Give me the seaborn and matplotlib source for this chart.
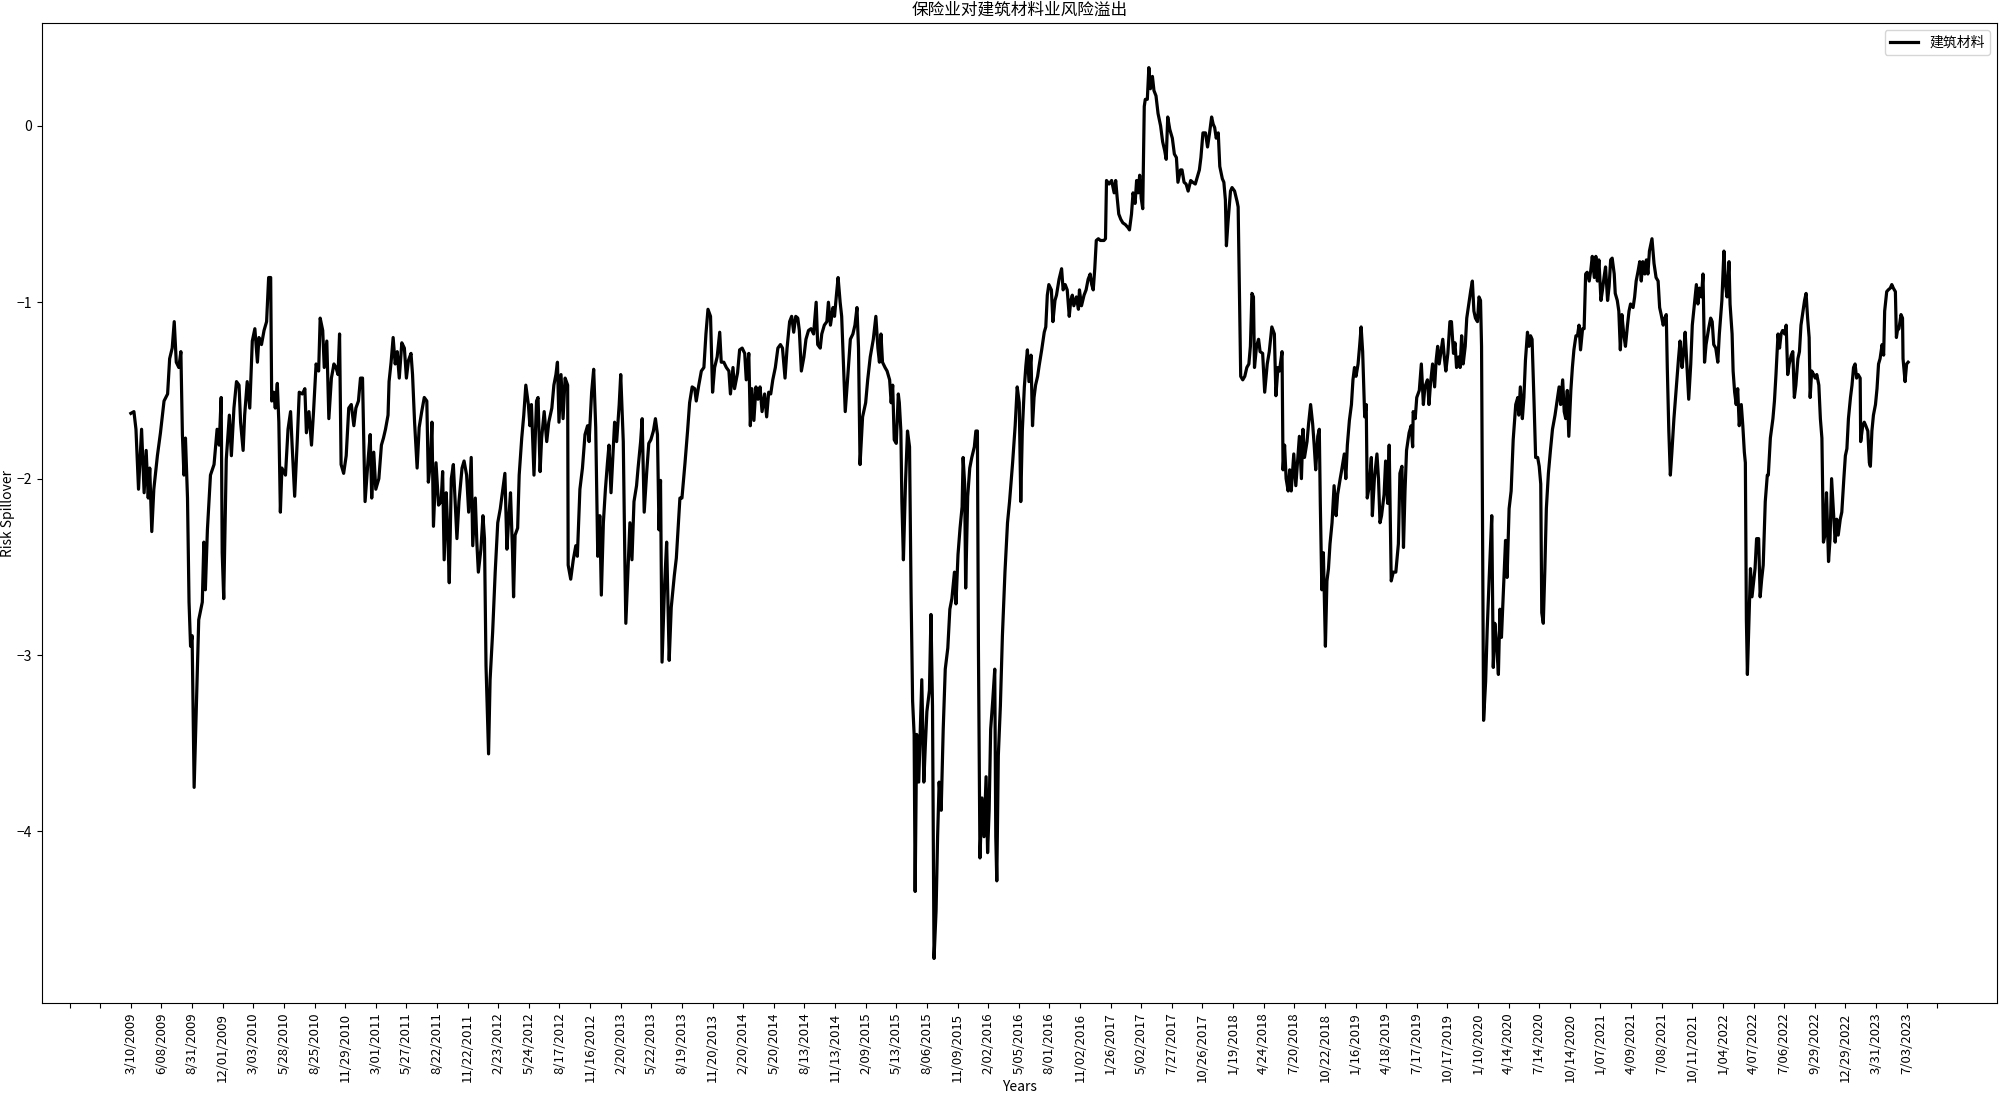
import numpy as np
import pandas as pd
import matplotlib
matplotlib.use("Agg")
import matplotlib.pyplot as plt
import seaborn as sns

# trading-day index (0 = 3/10/2009) and risk spillover
day_idx = [
    0, 6, 10, 15, 21, 26, 30, 34, 37, 41,
    45, 52, 58, 65, 72, 76, 81, 85, 89, 94,
    98, 101, 104, 107, 111, 114, 117, 120, 124, 127,
    133, 140, 143, 146, 150, 156, 163, 169, 173, 177,
    179, 182, 187, 193, 197, 202, 207, 212, 215, 220,
    223, 228, 233, 238, 243, 248, 251, 256, 261, 266,
    270, 274, 276, 280, 283, 287, 290, 293, 296, 303,
    308, 313, 316, 321, 326, 330, 336, 341, 344, 349,
    354, 358, 363, 368, 371, 376, 379, 384, 388, 393,
    398, 402, 406, 409, 412, 417, 422, 427, 432, 437,
    441, 446, 450, 454, 457, 459, 465, 469, 472, 476,
    480, 486, 491, 495, 499,
    504, 506, 510, 514, 518, 522, 526, 531, 536, 540,
    544, 549, 552, 556, 561, 565, 570, 575, 580, 583,
    587, 590, 593, 598, 603, 608, 611, 614, 618, 621,
    624, 628, 632, 635, 639, 643, 649, 653, 658, 662,
    667, 670, 675, 678, 681, 686, 690, 693, 696, 701,
    704, 709, 714, 719, 724, 729, 733, 737, 740, 744,
    748, 750, 753, 758, 761, 766, 770, 774, 779, 782,
    785, 790, 795, 798, 802, 805, 810, 815, 819, 825,
    829, 833, 836, 839, 843, 847, 851, 856, 857, 862,
    867, 872, 875, 880, 885, 890, 895, 898, 903, 907,
    911, 915, 919, 922, 926, 930, 934, 937, 941, 944,
    948, 952, 957, 960, 965, 968, 970, 975, 978, 982,
    986, 991, 994, 999, 1002,
    1006, 1011, 1015, 1019, 1024, 1028, 1032, 1035, 1038, 1041,
    1046, 1050, 1055, 1059, 1065, 1069, 1076, 1080, 1086, 1091,
    1095, 1100, 1105, 1108, 1113, 1118, 1123, 1127, 1131, 1136,
    1140, 1144, 1149, 1154, 1157, 1162, 1167, 1172, 1175, 1180,
    1183, 1189, 1193, 1198, 1203, 1206, 1211, 1214, 1217, 1221,
    1225, 1229, 1233, 1237, 1242, 1246, 1250, 1254, 1258, 1263,
    1268, 1273, 1277, 1282, 1286, 1291, 1295, 1299, 1303, 1307,
    1310, 1314, 1319, 1323, 1328, 1333, 1338, 1343, 1346, 1351,
    1354, 1359, 1364, 1367, 1371, 1376, 1379, 1383, 1386, 1390,
    1393, 1397, 1400, 1405, 1410, 1415, 1419, 1423, 1426, 1429,
    1434, 1440, 1444, 1449, 1455, 1460, 1464, 1467, 1470, 1473,
    1478, 1482, 1487, 1490, 1493, 1496, 1500, 1504,
    1506, 1509, 1511, 1514, 1518, 1522, 1526, 1529, 1532, 1535,
    1537, 1540, 1544, 1547, 1550, 1554, 1557, 1560, 1565, 1568,
    1571, 1574, 1578, 1581, 1584, 1588, 1592, 1596, 1601, 1605,
    1609, 1614, 1617, 1621, 1625, 1629, 1631, 1634, 1636, 1640,
    1644, 1648, 1653, 1656, 1659, 1661, 1664, 1668, 1672, 1676,
    1679, 1682, 1685, 1689, 1693, 1695, 1697, 1700, 1704, 1708,
    1713, 1718, 1722, 1728, 1733, 1737, 1741, 1744, 1747, 1751,
    1754, 1757, 1760, 1764, 1767, 1770, 1773, 1777, 1780, 1785,
    1790, 1793, 1796, 1799, 1804, 1807, 1811, 1814, 1819, 1824,
    1827, 1831, 1835, 1839, 1842, 1845, 1848, 1853, 1857, 1859,
    1863, 1868, 1872, 1876, 1880, 1883, 1886, 1889, 1892, 1896,
    1900, 1907, 1910, 1912, 1917, 1922, 1927, 1930, 1933, 1936,
    1940, 1944, 1949, 1955, 1957, 1961, 1964, 1968, 1971, 1974,
    1977, 1980, 1983, 1986, 1988, 1992,
    1995, 1998, 2002, 2005, 2009, 2013, 2018, 2022, 2026, 2029,
    2032, 2036, 2041, 2045, 2049, 2052, 2057, 2060, 2064, 2068,
    2072, 2077, 2081, 2086, 2090, 2094, 2097, 2101, 2106, 2110,
    2114, 2118, 2121, 2124, 2127, 2131, 2134, 2139, 2142, 2145,
    2147, 2150, 2155, 2158, 2163, 2168, 2170, 2172, 2175, 2179,
    2183, 2187, 2191, 2194, 2197, 2200, 2202, 2206, 2210, 2213,
    2218, 2222, 2227, 2231, 2236, 2241, 2244, 2248, 2251, 2256,
    2258, 2261, 2264, 2268, 2271, 2274, 2279, 2283, 2287, 2290,
    2294, 2297, 2300, 2305, 2308, 2312, 2316, 2319, 2322, 2326,
    2329, 2331, 2334, 2337, 2341, 2344, 2347, 2350, 2354, 2358,
    2362, 2365, 2370, 2373, 2378, 2381, 2384, 2388, 2392, 2395,
    2398, 2401, 2405, 2408, 2411, 2414, 2418, 2421, 2423, 2427,
    2431, 2433, 2437, 2442, 2445, 2448, 2451, 2456, 2459, 2463,
    2466, 2470, 2474, 2479,
    2484, 2487, 2491, 2494, 2497, 2500, 2505, 2509, 2512, 2513,
    2517, 2520, 2525, 2529, 2533, 2536, 2541, 2544, 2547, 2551,
    2555, 2558, 2561, 2564, 2568, 2571, 2574, 2577, 2581, 2585,
    2588, 2592, 2595, 2598, 2602, 2605, 2608, 2611, 2615, 2618,
    2622, 2626, 2629, 2632, 2635, 2639, 2642, 2645, 2647, 2649,
    2651, 2655, 2658, 2662, 2667, 2670, 2673, 2677, 2680, 2683,
    2686, 2690, 2694, 2697, 2701, 2705, 2709, 2714, 2718, 2720,
    2723, 2727, 2730, 2733, 2737, 2740, 2743, 2746, 2750, 2753,
    2757, 2760, 2763, 2765, 2768, 2771, 2774, 2778, 2782, 2786,
    2791, 2795, 2799, 2802, 2806, 2809, 2812, 2815, 2818, 2822,
    2825, 2828, 2832, 2835, 2838, 2841, 2845, 2848, 2851, 2854,
    2858, 2861, 2864, 2868, 2871, 2874, 2877, 2881, 2884, 2887,
    2890, 2894, 2897, 2900, 2903, 2907, 2909, 2913, 2916, 2919,
    2922, 2926, 2929, 2933, 2936, 2939, 2944, 2947, 2950, 2954,
    2957, 2960, 2963, 2967, 2970,
    2973, 2976, 2981, 2985, 2989, 2993, 2996, 2999, 3003, 3006,
    3009, 3011, 3014, 3017, 3020, 3024, 3029, 3033, 3036, 3040,
    3043, 3046, 3050, 3053, 3057, 3060, 3065, 3068, 3071, 3074,
    3078, 3081, 3084, 3087, 3092, 3096, 3099, 3102, 3106, 3110,
    3113, 3118, 3122, 3125, 3128, 3132, 3134, 3138, 3140, 3143,
    3146, 3149, 3152, 3156, 3159, 3162, 3164, 3166, 3168, 3171,
    3174, 3177, 3180, 3183, 3186, 3190, 3193, 3196, 3199, 3203,
    3207, 3209, 3213, 3218, 3221, 3224, 3228, 3231, 3234, 3237,
    3241, 3244, 3247, 3250, 3254, 3257, 3260, 3263, 3267, 3270,
    3273, 3276, 3280, 3283, 3286, 3289, 3291, 3294, 3298, 3301,
    3304, 3308, 3311, 3314, 3317, 3320, 3323, 3327, 3330, 3333,
    3336, 3340, 3343, 3346, 3350, 3353, 3357, 3360, 3363, 3366,
    3370, 3373, 3376, 3379, 3382, 3385, 3389, 3390, 3394, 3397,
    3400, 3404, 3407, 3409, 3412, 3415, 3419, 3422, 3425, 3428,
    3432, 3435, 3437, 3441, 3444, 3448, 3451, 3454, 3458, 3460,
    3462, 3465, 3469, 3472, 3473, 3477, 3480, 3483,
]

spillover = [
    -1.63, -1.62, -1.72, -2.06, -1.72, -2.08, -1.84, -2.11, -1.94, -2.30,
    -2.06, -1.87, -1.74, -1.56, -1.52, -1.32, -1.26, -1.11, -1.34, -1.37,
    -1.28, -1.75, -1.98, -1.77, -2.11, -2.70, -2.95, -2.89, -3.75, -3.43,
    -2.80, -2.70, -2.36, -2.63, -2.29, -1.98, -1.92, -1.72, -1.81, -1.54,
    -2.42, -2.68, -1.89, -1.64, -1.87, -1.60, -1.45, -1.47, -1.68, -1.84,
    -1.64, -1.45, -1.60, -1.22, -1.15, -1.34, -1.20, -1.24, -1.16, -1.11,
    -0.86, -0.86, -1.56, -1.51, -1.60, -1.46, -1.68, -2.19, -1.94, -1.98,
    -1.72, -1.62, -1.81, -2.10, -1.79, -1.51, -1.52, -1.49, -1.74, -1.62,
    -1.81, -1.62, -1.35, -1.39, -1.09, -1.16, -1.37, -1.22, -1.66, -1.43,
    -1.35, -1.37, -1.41, -1.18, -1.92, -1.97, -1.87, -1.60, -1.58, -1.70,
    -1.60, -1.56, -1.43, -1.43, -1.87, -2.13, -1.89, -1.75, -2.11, -1.85,
    -2.06, -2.00, -1.81, -1.77, -1.72,
    -1.64, -1.45, -1.34, -1.20, -1.35, -1.28, -1.43, -1.23, -1.26, -1.43,
    -1.33, -1.29, -1.41, -1.68, -1.94, -1.71, -1.62, -1.54, -1.56, -2.02,
    -1.91, -1.68, -2.27, -1.91, -2.15, -2.13, -1.96, -2.46, -2.08, -2.30,
    -2.59, -2.00, -1.92, -2.10, -2.34, -2.13, -1.94, -1.90, -1.98, -2.19,
    -1.88, -2.38, -2.11, -2.36, -2.53, -2.40, -2.21, -2.34, -3.06, -3.56,
    -3.14, -2.87, -2.53, -2.25, -2.17, -2.06, -1.97, -2.40, -2.25, -2.08,
    -2.42, -2.67, -2.32, -2.28, -1.98, -1.77, -1.64, -1.47, -1.58, -1.70,
    -1.58, -1.98, -1.56, -1.54, -1.96, -1.77, -1.62, -1.79, -1.68, -1.60,
    -1.47, -1.41, -1.34, -1.68, -1.41, -1.66, -1.43, -1.47, -2.49, -2.57,
    -2.46, -2.38, -2.44, -2.06, -1.94, -1.75, -1.70, -1.79, -1.51, -1.38,
    -1.71, -2.44, -2.21, -2.66, -2.25, -2.06, -1.91, -1.81, -2.08, -1.91,
    -1.68, -1.79, -1.58, -1.41, -1.79, -2.44, -2.82, -2.47, -2.25, -2.46,
    -2.13, -2.04, -1.94, -1.79, -1.66,
    -2.19, -1.96, -1.80, -1.78, -1.73, -1.66, -1.75, -2.29, -2.01, -3.04,
    -2.60, -2.36, -3.03, -2.73, -2.55, -2.45, -2.11, -2.11, -1.91, -1.73,
    -1.57, -1.48, -1.49, -1.56, -1.47, -1.39, -1.37, -1.18, -1.04, -1.08,
    -1.51, -1.37, -1.31, -1.17, -1.34, -1.34, -1.37, -1.39, -1.52, -1.37,
    -1.49, -1.40, -1.27, -1.26, -1.29, -1.44, -1.29, -1.70, -1.49, -1.67,
    -1.48, -1.55, -1.48, -1.62, -1.52, -1.65, -1.51, -1.52, -1.44, -1.37,
    -1.26, -1.24, -1.26, -1.43, -1.26, -1.11, -1.08, -1.17, -1.08, -1.09,
    -1.16, -1.39, -1.31, -1.21, -1.16, -1.15, -1.18, -1.00, -1.24, -1.26,
    -1.18, -1.13, -1.11, -1.00, -1.13, -1.03, -1.08, -0.95, -0.86, -1.00,
    -1.08, -1.39, -1.62, -1.42, -1.21, -1.18, -1.13, -1.03, -1.26, -1.92,
    -1.65, -1.57, -1.44, -1.31, -1.21, -1.08, -1.26, -1.34, -1.18, -1.34,
    -1.37, -1.39, -1.44, -1.57, -1.47, -1.78, -1.80, -1.52,
    -1.57, -1.73, -2.13, -2.46, -2.03, -1.73, -1.82, -2.65, -3.26, -3.45,
    -4.34, -3.45, -3.72, -3.42, -3.14, -3.72, -3.51, -3.32, -3.20, -2.77,
    -3.29, -4.72, -4.45, -4.03, -3.72, -3.88, -3.42, -3.08, -2.96, -2.74,
    -2.68, -2.53, -2.71, -2.43, -2.28, -2.16, -1.88, -2.03, -2.62, -2.10,
    -1.94, -1.88, -1.82, -1.73, -1.73, -2.96, -4.15, -3.81, -4.03, -3.69,
    -4.12, -3.88, -3.42, -3.26, -3.08, -4.03, -4.28, -3.57, -3.29, -2.89,
    -2.53, -2.25, -2.13, -1.91, -1.70, -1.48, -1.57, -2.13, -1.73, -1.48,
    -1.36, -1.27, -1.45, -1.30, -1.70, -1.54, -1.47, -1.42, -1.36, -1.27,
    -1.17, -1.14, -0.96, -0.90, -0.93, -1.11, -0.99, -0.96, -0.87, -0.81,
    -0.93, -0.90, -0.93, -1.08, -0.99, -0.96, -1.02, -0.97, -1.04, -0.93,
    -1.02, -0.96, -0.93, -0.87, -0.84, -0.90, -0.93, -0.81, -0.65, -0.64,
    -0.65, -0.65, -0.64, -0.31, -0.33, -0.31, -0.38, -0.31, -0.41, -0.50,
    -0.53, -0.55, -0.56, -0.58, -0.59, -0.50, -0.38, -0.44, -0.31, -0.38,
    -0.28, -0.41, -0.47, 0.11, 0.15, 0.15,
    0.33, 0.21, 0.28, 0.20, 0.17, 0.07, 0.00, -0.09, -0.14, -0.19,
    0.05, -0.02, -0.07, -0.16, -0.18, -0.32, -0.25, -0.25, -0.32, -0.33,
    -0.37, -0.31, -0.32, -0.33, -0.29, -0.25, -0.18, -0.04, -0.04, -0.12,
    -0.04, 0.05, 0.01, -0.01, -0.07, -0.04, -0.23, -0.30, -0.32, -0.42,
    -0.68, -0.55, -0.37, -0.35, -0.37, -0.43, -0.46, -0.86, -1.42, -1.44,
    -1.42, -1.37, -1.35, -1.25, -0.95, -0.97, -1.37, -1.25, -1.21, -1.28,
    -1.29, -1.51, -1.35, -1.28, -1.14, -1.18, -1.53, -1.37, -1.39, -1.28,
    -1.95, -1.81, -2.00, -2.07, -1.95, -2.07, -1.86, -2.04, -1.88, -1.76,
    -2.00, -1.72, -1.88, -1.79, -1.69, -1.58, -1.69, -1.81, -1.95, -1.76,
    -1.72, -2.14, -2.63, -2.42, -2.95, -2.58, -2.51, -2.37, -2.25, -2.04,
    -2.21, -2.09, -2.00, -1.95, -1.86, -2.00, -1.81, -1.67, -1.58, -1.44,
    -1.37, -1.42, -1.35, -1.25, -1.14, -1.28, -1.65, -1.58, -2.11, -2.04,
    -1.88, -2.21, -2.00, -1.86, -2.00, -2.25, -2.21, -2.09, -1.90, -2.14,
    -1.81, -2.58, -2.53, -2.53,
    -2.37, -1.97, -1.93, -2.39, -2.07, -1.84, -1.74, -1.70, -1.82, -1.62,
    -1.66, -1.54, -1.50, -1.35, -1.58, -1.48, -1.44, -1.58, -1.46, -1.35,
    -1.48, -1.33, -1.25, -1.35, -1.27, -1.21, -1.31, -1.39, -1.29, -1.11,
    -1.11, -1.29, -1.23, -1.37, -1.31, -1.37, -1.19, -1.35, -1.25, -1.09,
    -1.01, -0.93, -0.88, -1.05, -1.09, -1.11, -0.97, -0.99, -1.25, -2.37,
    -3.37, -3.15, -2.86, -2.56, -2.21, -3.07, -2.82, -2.96, -3.11, -2.74,
    -2.90, -2.62, -2.35, -2.56, -2.17, -2.07, -1.78, -1.58, -1.54, -1.64,
    -1.48, -1.66, -1.54, -1.33, -1.17, -1.25, -1.19, -1.21, -1.58, -1.88,
    -1.88, -1.93, -2.03, -2.76, -2.82, -2.52, -2.17, -1.97, -1.84, -1.72,
    -1.64, -1.56, -1.48, -1.58, -1.44, -1.62, -1.66, -1.50, -1.76, -1.50,
    -1.37, -1.27, -1.19, -1.19, -1.13, -1.27, -1.15, -1.15, -0.84, -0.83,
    -0.88, -0.82, -0.74, -0.86, -0.74, -0.88, -0.76, -0.99, -0.93, -0.86,
    -0.80, -0.99, -0.91, -0.76, -0.75, -0.84, -0.95, -0.99, -1.05, -1.27,
    -1.07, -1.19, -1.25, -1.13, -1.05, -1.01, -1.03, -0.97, -0.88, -0.82,
    -0.77, -0.88, -0.77, -0.84, -0.76,
    -0.84, -0.71, -0.64, -0.78, -0.86, -0.88, -1.03, -1.07, -1.13, -1.09,
    -1.07, -1.37, -1.73, -1.98, -1.85, -1.66, -1.47, -1.32, -1.22, -1.37,
    -1.28, -1.17, -1.39, -1.55, -1.35, -1.13, -0.99, -0.90, -1.01, -0.92,
    -0.97, -0.84, -1.34, -1.24, -1.15, -1.09, -1.11, -1.24, -1.26, -1.34,
    -1.18, -0.99, -0.71, -0.90, -0.97, -0.77, -1.01, -1.18, -1.39, -1.51,
    -1.58, -1.49, -1.70, -1.58, -1.70, -1.85, -1.91, -2.80, -3.11, -2.80,
    -2.51, -2.67, -2.59, -2.51, -2.34, -2.34, -2.67, -2.57, -2.49, -2.13,
    -1.98, -1.98, -1.77, -1.66, -1.56, -1.41, -1.18, -1.26, -1.18, -1.16,
    -1.18, -1.13, -1.41, -1.35, -1.30, -1.28, -1.54, -1.47, -1.32, -1.28,
    -1.13, -1.07, -0.99, -0.95, -1.09, -1.20, -1.54, -1.39, -1.41, -1.43,
    -1.41, -1.47, -1.66, -1.77, -2.36, -2.32, -2.08, -2.47, -2.34, -2.00,
    -2.15, -2.36, -2.23, -2.32, -2.23, -2.19, -2.00, -1.87, -1.83, -1.66,
    -1.54, -1.47, -1.37, -1.35, -1.43, -1.41, -1.43, -1.79, -1.70, -1.68,
    -1.70, -1.73, -1.91, -1.93, -1.73, -1.64, -1.58, -1.49, -1.35, -1.32,
    -1.24, -1.30, -1.05, -0.94, -0.93, -0.92, -0.90, -0.92, -0.94, -1.20,
    -1.16, -1.15, -1.07, -1.09, -1.32, -1.45, -1.35, -1.34,
]

# one labelled tick every 60 trading days
tick_dates = [
    "3/10/2009", "6/08/2009", "8/31/2009", "12/01/2009",
    "3/03/2010", "5/28/2010", "8/25/2010", "11/29/2010",
    "3/01/2011", "5/27/2011", "8/22/2011", "11/22/2011",
    "2/23/2012", "5/24/2012", "8/17/2012", "11/16/2012",
    "2/20/2013", "5/22/2013", "8/19/2013", "11/20/2013",
    "2/20/2014", "5/20/2014", "8/13/2014", "11/13/2014",
    "2/09/2015", "5/13/2015", "8/06/2015", "11/09/2015",
    "2/02/2016", "5/05/2016", "8/01/2016", "11/02/2016",
    "1/26/2017", "5/02/2017", "7/27/2017", "10/26/2017",
    "1/19/2018", "4/24/2018", "7/20/2018", "10/22/2018",
    "1/16/2019", "4/18/2019", "7/17/2019", "10/17/2019",
    "1/10/2020", "4/14/2020", "7/14/2020", "10/14/2020",
    "1/07/2021", "4/09/2021", "7/08/2021", "10/11/2021",
    "1/04/2022", "4/07/2022", "7/06/2022", "9/29/2022",
    "12/29/2022", "3/31/2023", "7/03/2023",
]
tick_step = 60

plt.rcParams["font.family"] = ["Noto Sans CJK SC", "DejaVu Sans"]

df = pd.DataFrame({"day": day_idx, "spill": spillover})

fig, ax = plt.subplots(figsize=(20, 10.98), dpi=100)
fig.subplots_adjust(left=0.021, right=0.9985, top=0.979, bottom=0.0865)

sns.lineplot(data=df, x="day", y="spill", color="black", linewidth=2.3,
             label="建筑材料", ax=ax)

# ticks like a category axis: empty labels outside the data range
pos = np.arange(-2, len(tick_dates) + 1) * tick_step
labels = ["", ""] + tick_dates + [""]
ax.set_xticks(pos)
ax.set_xticklabels(labels, rotation=90, fontsize=9.5)
ax.tick_params(axis="y", labelsize=10)

ax.set_title("保险业对建筑材料业风险溢出", fontsize=12)
ax.set_xlabel("Years", fontsize=10, labelpad=-1)
ax.set_ylabel("Risk Spillover", fontsize=10, labelpad=1)
ax.legend(loc="upper right", fontsize=10)

fig.savefig("out.png", dpi=100)
